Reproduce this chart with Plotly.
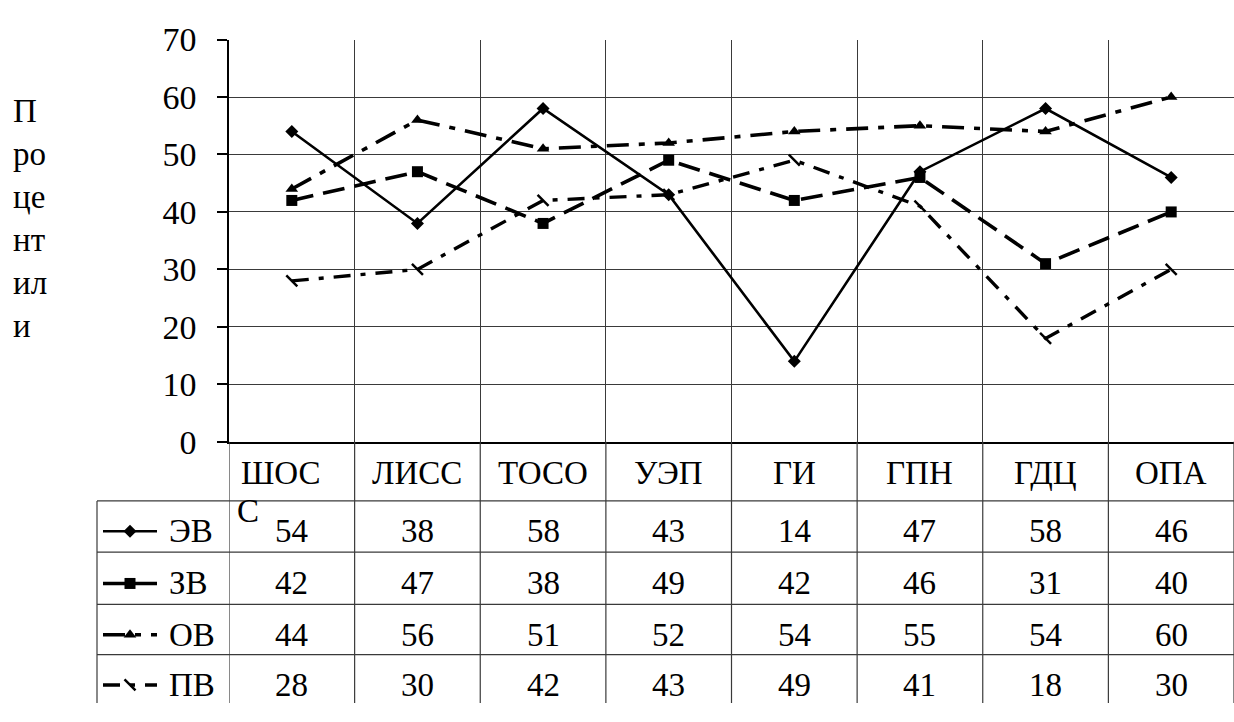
import plotly.graph_objects as go

# ---------------- data ----------------
categories = ["ШОС", "ЛИСС", "ТОСО", "УЭП", "ГИ", "ГПН", "ГДЦ", "ОПА"]
series_names = ["ЭВ", "ЗВ", "ОВ", "ПВ"]
ev_values = [54, 38, 58, 43, 14, 47, 58, 46]
zv_values = [42, 47, 38, 49, 42, 46, 31, 40]
ov_values = [44, 56, 51, 52, 54, 55, 54, 60]
pv_values = [28, 30, 42, 43, 49, 41, 18, 30]
y_tick_values = [0, 10, 20, 30, 40, 50, 60, 70]
y_title_parts = ["П", "ро", "це", "нт", "ил", "и"]
stray_text = "С"

# ---------------- styles / layout constants ----------------
W, H = 1234, 722
PLOT_L, PLOT_T, PLOT_B = 229, 22.7, 446.7
FONT = "Liberation Serif, Times New Roman, Liberation Sans, Arial, sans-serif"
FS = 33
GRID = "#3a3a3a"

styles = [
    dict(dash="solid", width=2.6, symbol="diamond", size=10),
    dict(dash="22px,10px", width=3.6, symbol="square", size=11),
    dict(dash="22px,10px,6px,10px", width=3.6, symbol="triangle-up", size=11),
    dict(dash="17px,10px,5px,10px", width=3.4, symbol="line-nw", size=11),
]
series_values = [ev_values, zv_values, ov_values, pv_values]

header_y = 480
row_centers = [541, 596, 650, 703]
row_lines = [509, 563, 618, 671]
table_left = 97
legend_x0, legend_x1, legend_mx = 103, 157, 130
legend_text_x = 167

x_idx = list(range(len(categories)))

fig = go.Figure()

for name, vals, st in zip(series_names, series_values, styles):
    is_line_marker = st["symbol"].startswith("line")
    fig.add_trace(go.Scatter(
        x=x_idx, y=vals, mode="lines+markers", name=name,
        xaxis="x", yaxis="y",
        line=dict(color="black", width=st["width"], dash=st["dash"]),
        marker=dict(symbol=st["symbol"], size=st["size"], color="black",
                    line=dict(color="black", width=2.5 if is_line_marker else 0)),
        cliponaxis=False, showlegend=False, hoverinfo="skip",
    ))

# legend samples inside the data table (pixel overlay axes)
for i, st in enumerate(styles):
    is_line_marker = st["symbol"].startswith("line")
    yc = row_centers[i]
    fig.add_trace(go.Scatter(
        x=[legend_x0, legend_mx, legend_x1], y=[yc, yc, yc],
        mode="lines", xaxis="x2", yaxis="y2",
        line=dict(color="black", width=st["width"], dash=st["dash"]),
        showlegend=False, hoverinfo="skip",
    ))
    fig.add_trace(go.Scatter(
        x=[legend_mx], y=[yc], mode="markers", xaxis="x2", yaxis="y2",
        marker=dict(symbol=st["symbol"], size=st["size"], color="black",
                    line=dict(color="black", width=2.5 if is_line_marker else 0)),
        showlegend=False, hoverinfo="skip",
    ))

annotations = []
# category header labels
for i, c in enumerate(categories):
    annotations.append(dict(
        x=i, y=header_y, xref="x", yref="y2", text=c, showarrow=False,
        xanchor="center", yanchor="middle", xshift=-11 if i == 0 else 0,
        font=dict(family=FONT, size=FS, color="black")))
# table values and series names
for r, vals in enumerate(series_values):
    for i, v in enumerate(vals):
        annotations.append(dict(
            x=i, y=row_centers[r], xref="x", yref="y2", text=str(v), showarrow=False,
            xanchor="center", yanchor="middle",
            font=dict(family=FONT, size=FS, color="black")))
    annotations.append(dict(
        x=legend_text_x, y=row_centers[r], xref="x2", yref="y2", text=series_names[r],
        showarrow=False, xanchor="left", yanchor="middle",
        font=dict(family=FONT, size=FS, color="black")))
# stray character
annotations.append(dict(
    x=235, y=520, xref="x2", yref="y2", text=stray_text, showarrow=False,
    xanchor="left", yanchor="middle", font=dict(family=FONT, size=FS, color="black")))
# y axis title (wrapped)
annotations.append(dict(
    x=11, y=77, xref="x2", yref="y2", text="<br>".join(y_title_parts), showarrow=False,
    xanchor="left", yanchor="top", align="left",
    font=dict(family=FONT, size=33, color="black")))

shapes = []
for yl in row_lines:
    shapes.append(dict(type="line", xref="x2", yref="y2", x0=table_left, x1=W,
                       y0=yl, y1=yl, line=dict(color=GRID, width=1.2)))
shapes.append(dict(type="line", xref="x2", yref="y2", x0=table_left, x1=table_left,
                   y0=row_lines[0], y1=H, line=dict(color=GRID, width=1.2)))
for i in range(len(categories) + 1):
    shapes.append(dict(type="line", xref="x", yref="y2", x0=i - 0.5, x1=i - 0.5,
                       y0=PLOT_B, y1=H, line=dict(color=GRID, width=1.2)))

fig.update_layout(
    width=W, height=H,
    margin=dict(l=0, r=0, t=0, b=0),
    paper_bgcolor="white", plot_bgcolor="rgba(0,0,0,0)",
    font=dict(family=FONT, size=FS, color="black"),
    showlegend=False,
    xaxis=dict(domain=[PLOT_L / W, 1], range=[-0.5, len(categories) - 0.5],
               tickvals=[i - 0.5 for i in range(len(categories) + 1)],
               showticklabels=False, ticks="", showgrid=True, gridcolor=GRID,
               gridwidth=1.2, zeroline=False, showline=True, linecolor="black",
               linewidth=1.5, anchor="y", fixedrange=True),
    yaxis=dict(domain=[(H - PLOT_B) / H, (H - PLOT_T) / H], range=[0, 70],
               tickvals=y_tick_values, ticks="outside", ticklen=10,
               tickcolor="black", tickwidth=1.5, showgrid=True, gridcolor=GRID,
               gridwidth=1.2, zeroline=False, showline=True, linecolor="black",
               linewidth=1.5, ticklabelstandoff=14,
               tickfont=dict(family=FONT, size=34, color="black"),
               anchor="x", fixedrange=True),
    xaxis2=dict(domain=[0, 1], range=[0, W], visible=False, anchor="y2",
                fixedrange=True),
    yaxis2=dict(domain=[0, 1], range=[H, 0], visible=False, anchor="x2",
                fixedrange=True),
    annotations=annotations,
    shapes=shapes,
)

fig.write_html("out.html")
